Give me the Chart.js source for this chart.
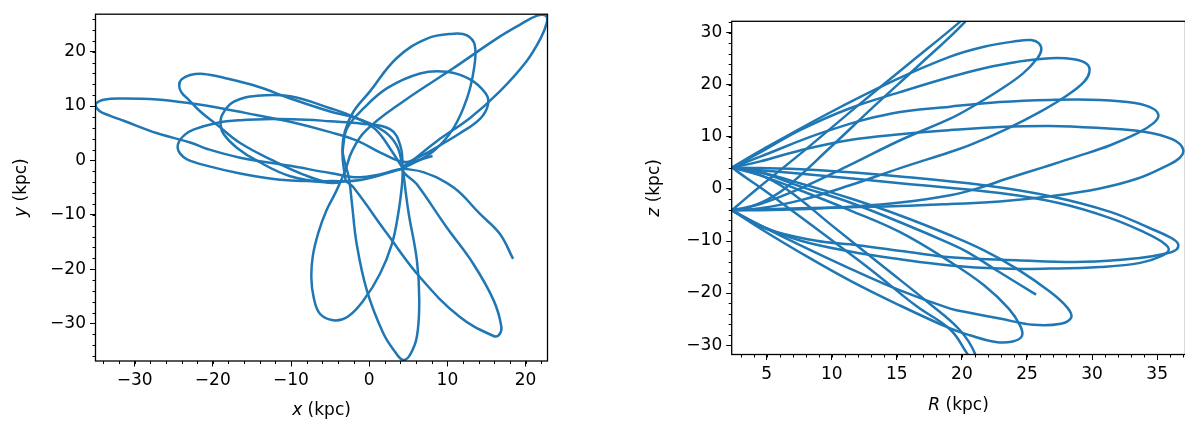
<!DOCTYPE html>
<html>
<head>
<meta charset="utf-8">
<script src="https://cdn.jsdelivr.net/npm/chart.js@4.4.1/dist/chart.umd.min.js"></script>
<style>
  html, body { margin: 0; padding: 0; background: #fff; overflow: hidden; }
  canvas { position: absolute; top: 0; }
  #xy { left: 0; }
  #rz { left: 590px; }
</style>
</head>
<body>
<canvas id="xy" width="580" height="425"></canvas>
<canvas id="rz" width="610" height="425"></canvas>
<script>
// orbit seen from above, x-y in kpc, traced petal by petal
const xyPetal1 = [[8.1,0.8],[4.6,-0.3],[1.5,1.4],[-1.5,3.6],[-5.0,5.2],[-10.1,7.1],[-14.3,8.3],[-18.6,9.5],[-22.9,10.5],[-27.1,11.2],[-31.4,11.4],[-33.8,11.2],[-35.0,10.3],[-34.5,9.1],[-33.1,8.2],[-31.4,7.3],[-27.1,5.0],[-22.9,3.3],[-20.7,2.1],[-16.5,0.5],[-10.1,-1.0],[-5.0,-2.3],[-1.1,-3.1],[4.3,-1.5]];
const xyPetal2 = [[4.3,-1.5],[3.7,2.2],[2.4,4.8],[0.1,6.8],[-2.4,8.1],[-5.0,9.0],[-10.1,11.4],[-14.3,13.6],[-18.6,15.2],[-21.2,15.9],[-22.9,15.7],[-24.0,14.9],[-24.3,13.8],[-24.0,12.5],[-23.1,11.2],[-21.6,9.0],[-19.5,6.6],[-16.5,3.2],[-12.2,-0.1],[-8.4,-2.6],[-5.0,-4.1],[-3.0,-3.8]];
const xyPetal3 = [[4.3,-1.5],[4.0,2.6],[2.7,5.7],[-1.1,6.8],[-5.0,7.2],[-8.0,7.5],[-12.2,7.6],[-16.5,7.4],[-19.5,6.9],[-22.4,5.7],[-23.6,4.7],[-24.3,3.5],[-24.5,2.4],[-24.2,1.3],[-23.3,0.2],[-20.7,-1.0],[-16.5,-2.4],[-12.2,-3.4],[-8.0,-3.8],[-5.0,-3.8],[-1.1,-3.6],[4.3,-1.5]];
const xyPetal4 = [[4.3,-1.5],[2.9,1.7],[0.8,5.7],[-1.8,7.9],[-5.0,9.6],[-10.1,11.8],[-14.3,11.9],[-17.3,10.8],[-18.8,8.4],[-19.0,6.6],[-18.6,4.8],[-16.9,2.3],[-14.3,-0.1],[-10.1,-2.9],[-5.0,-4.1],[-3.0,-3.8]];
const xyPetal5 = [[4.3,-1.5],[8.6,3.5],[12.9,7.8],[16.7,12.7],[20.1,18.2],[21.9,22.4],[22.7,25.3],[22.6,26.6],[21.4,26.6],[19.2,24.9],[16.3,22.4],[10.7,16.9],[4.3,10.8],[-0.5,5.4],[-2.2,1.7],[-3.1,-2.0],[-4.2,-5.6],[-5.5,-9.3],[-6.5,-13.3],[-7.2,-17.5],[-7.4,-21.5],[-7.1,-25.2],[-6.3,-28.2],[-4.6,-29.4],[-2.8,-28.8],[-0.7,-25.7],[1.4,-20.8],[2.9,-15.4],[3.7,-9.9],[4.2,-4.4],[4.3,-1.5]];
const xyPetal6 = [[4.3,-1.5],[8.2,1.7],[10.8,6.0],[12.5,11.4],[13.4,16.9],[13.5,21.2],[12.5,23.0],[10.8,23.3],[7.4,22.4],[3.5,18.8],[0.1,12.7],[-2.0,9.0],[-3.1,5.4],[-3.4,1.7],[-2.6,-3.2],[-2.2,-8.0],[-1.6,-15.4],[-0.3,-23.9],[1.8,-31.8],[3.3,-35.2],[4.3,-36.7],[5.2,-35.8],[6.1,-32.4],[6.4,-25.7],[6.1,-18.4],[5.0,-9.3],[4.3,-1.5]];
const xyPetal7 = [[-3.0,-3.8],[-3.4,0.4],[-3.3,2.9],[-2.8,6.0],[-0.7,9.6],[2.3,13.3],[6.5,16.0],[9.9,16.3],[12.9,14.9],[14.9,12.3],[15.2,10.3],[14.2,7.7],[11.6,5.0],[7.8,1.7],[4.3,-1.5],[6.1,-4.4],[9.9,-12.3],[13.3,-19.0],[15.9,-25.7],[16.9,-30.6],[16.6,-32.1],[15.9,-32.3],[11.6,-28.8],[6.5,-21.5],[2.3,-13.5],[-2.0,-5.0],[-3.0,-3.8]];
const xyTail = [[4.3,-1.5],[7.0,-2.2],[10.8,-5.0],[14.2,-9.9],[16.7,-13.5],[18.4,-18.1]];

// same orbit in R-z, one excursion per list
const rzUp1 = [[2.33,4.1],[4.5,7.3],[9.5,14.2],[14.6,20.6],[19.1,25.4],[21.7,27.3],[24.2,28.4],[25.3,28.6],[25.9,28.0],[26.1,26.7],[25.8,25.1],[24.7,22.2],[22.9,19.0],[20.6,15.5],[19.1,13.5],[15.3,9.4],[11.4,4.6],[7.6,0.1],[4.5,-2.9],[2.33,-4.1]];
const rzUp2 = [[2.33,4.1],[4.5,7.0],[7.56,11.3],[11.4,15.5],[15.25,18.6],[19.1,21.5],[21.7,23.2],[24.2,24.4],[26.8,25.1],[28.6,24.9],[29.6,24.0],[29.8,22.5],[29.4,20.6],[28.1,18.0],[26.0,14.8],[23.5,11.6],[20.6,8.4],[19.1,7.1],[15.25,4.0],[11.4,0.7],[7.56,-2.2],[4.5,-3.7],[2.33,-4.1]];
const rzUp3 = [[2.33,4.1],[4.5,6.2],[9.5,11.0],[14.6,14.5],[19.1,15.8],[22.9,16.7],[26.8,17.1],[30.6,17.1],[33.3,16.5],[34.7,15.4],[35.1,14.0],[34.7,12.6],[33.5,10.7],[31.4,8.4],[28.8,6.2],[26.3,4.2],[23.5,2.0],[21.2,0.1],[19.1,-1.2],[15.25,-2.6],[11.4,-3.4],[7.56,-3.9],[4.5,-4.1],[2.33,-4.1]];
const rzUp4 = [[2.33,4.1],[4.5,5.3],[7.56,7.4],[11.4,9.4],[15.25,10.5],[19.1,11.3],[22.9,11.9],[26.8,12.1],[30.6,11.7],[34.0,11.0],[36.2,9.5],[37.0,7.6],[36.7,5.9],[35.6,4.3],[33.5,2.0],[30.6,0.1],[26.8,-1.4],[22.9,-2.4],[19.1,-2.9],[15.25,-3.3],[11.4,-3.5],[7.56,-3.7],[2.33,-4.1]];
const rzDown1 = [[2.33,4.1],[4.5,4.0],[9.1,3.6],[15.25,2.4],[21.7,0.7],[26.8,-1.4],[31.4,-4.4],[34.5,-7.6],[36.0,-9.3],[36.6,-10.5],[36.5,-11.6],[35.7,-12.4],[33.5,-13.3],[29.4,-14.0],[24.2,-13.7],[19.1,-13.1],[15.9,-12.1],[12.0,-10.8],[8.7,-9.9],[4.9,-7.6],[2.33,-4.1]];
const rzDown2 = [[2.33,4.1],[4.5,3.6],[9.1,2.6],[15.25,1.1],[22.9,-0.8],[27.6,-2.8],[31.4,-5.6],[34.0,-8.3],[35.4,-10.2],[35.9,-11.6],[35.4,-12.8],[33.7,-14.2],[30.6,-15.0],[26.8,-15.3],[22.9,-15.3],[19.1,-14.7],[15.25,-13.5],[11.4,-12.0],[7.56,-9.9],[4.5,-7.0],[2.33,-4.1]];
const rzDown3 = [[2.33,4.1],[4.5,3.2],[7.56,1.1],[11.4,-1.8],[15.25,-5.1],[19.1,-8.9],[21.7,-11.8],[24.2,-15.3],[26.8,-19.8],[28.1,-22.8],[28.4,-24.7],[27.6,-25.9],[25.5,-26.1],[22.9,-24.9],[20.4,-23.7],[19.1,-23.0],[15.25,-19.5],[11.4,-15.3],[7.56,-10.8],[4.5,-7.0],[2.33,-4.1]];
const rzDown4 = [[2.33,4.1],[4.5,2.6],[7.56,-0.25],[11.4,-4.1],[15.25,-8.3],[19.1,-14.0],[21.7,-18.5],[23.6,-23.0],[24.5,-26.4],[24.6,-28.3],[23.9,-29.3],[22.6,-29.4],[20.6,-28.1],[19.1,-26.8],[15.25,-22.4],[11.4,-17.6],[7.56,-12.2],[4.5,-7.6],[2.33,-4.1]];
const rzTop = [[2.33,-4.1],[3.3,-2.0],[4.3,0.1],[8.0,7.6],[12.0,16.0],[15.9,24.0],[19.8,32.0],[20.6,34.0],[20.2,32.0],[16.8,24.0],[13.3,16.0],[9.9,8.0],[6.4,0.1],[4.6,-2.6],[3.2,-3.8],[2.33,-4.1]];
const rzBottom = [[2.33,4.1],[3.5,2.0],[5.0,-0.6],[9.0,-8.0],[13.0,-15.5],[16.5,-22.5],[19.1,-27.0],[20.4,-31.6],[20.9,-33.5],[21.0,-31.6],[19.8,-27.0],[17.5,-22.0],[14.0,-15.0],[10.0,-7.0],[6.5,0.0],[4.2,3.0],[2.33,4.1]];
const rzTail = [[2.33,4.1],[4.5,3.2],[7.56,0.5],[11.4,-2.6],[15.25,-6.4],[19.1,-10.5],[20.4,-12.1],[22.9,-16.0],[25.7,-20.3]];

// axis ranges and tick labels
const xRange = [-35.0, 22.8];
const yRange = [-36.9, 26.9];
const RRange = [2.31, 37.18];
const zRange = [-31.8, 32.2];
const xTicks = [-30, -20, -10, 0, 10, 20];
const yTicks = [-30, -20, -10, 0, 10, 20];
const RTicks = [5, 10, 15, 20, 25, 30, 35];
const zTicks = [-30, -20, -10, 0, 10, 20, 30];

const blue = '#1f77b4';
const fam = "'DejaVu Sans', sans-serif";
Chart.defaults.font.family = fam;
Chart.defaults.font.size = 17;
Chart.defaults.color = '#000';

const minus = v => String(v).replace('-', '\u2212');

function drawTitle(ctx, parts, cx, cy, rot) {
  ctx.save();
  ctx.translate(cx, cy);
  if (rot) ctx.rotate(-Math.PI / 2);
  ctx.fillStyle = '#000';
  ctx.textBaseline = 'middle';
  ctx.font = 'italic 17px ' + fam;
  const w1 = ctx.measureText(parts[0]).width;
  ctx.font = '17px ' + fam;
  const w2 = ctx.measureText(parts[1]).width;
  let x = -(w1 + w2) / 2;
  ctx.font = 'italic 17px ' + fam;
  ctx.fillText(parts[0], x, 0);
  ctx.font = '17px ' + fam;
  ctx.fillText(parts[1], x + w1, 0);
  ctx.restore();
}

// frame, minor ticks and the axis titles
const frameTicks = {
  id: 'frameTicks',
  afterDraw(chart, args, o) {
    const { ctx, chartArea: a, scales } = chart;
    const xs = scales.x, ys = scales.y;
    ctx.save();
    ctx.strokeStyle = '#000';
    ctx.lineWidth = 1;
    ctx.beginPath();
    for (let i = Math.ceil(xs.min / o.xMinor); i * o.xMinor <= xs.max; i++) {
      const p = Math.round(xs.getPixelForValue(i * o.xMinor)) + 0.5;
      ctx.moveTo(p, a.bottom); ctx.lineTo(p, a.bottom + 3);
    }
    for (let i = Math.ceil(ys.min / o.yMinor); i * o.yMinor <= ys.max; i++) {
      const p = Math.round(ys.getPixelForValue(i * o.yMinor)) + 0.5;
      ctx.moveTo(a.left - 3, p); ctx.lineTo(a.left, p);
    }
    ctx.stroke();
    ctx.lineWidth = 1.3;
    ctx.strokeRect(a.left, a.top, a.right - a.left, a.bottom - a.top);
    ctx.restore();
    drawTitle(ctx, o.xTitle, (a.left + a.right) / 2, a.bottom + o.xTitleGap, false);
    drawTitle(ctx, o.yTitle, a.left - o.yTitleGap, (a.top + a.bottom) / 2, true);
  }
};

function axis(range, ticks, fit) {
  return {
    type: 'linear',
    min: range[0],
    max: range[1],
    afterBuildTicks: s => { s.ticks = ticks.map(v => ({ value: v })); },
    afterFit: fit,
    grid: { drawOnChartArea: false, drawTicks: true, tickLength: 5.5, tickColor: '#000', tickWidth: 1 },
    border: { display: false },
    ticks: { padding: 4, color: '#000', autoSkip: false, maxRotation: 0, callback: v => minus(v) }
  };
}

function orbitChart(id, segs, xr, yr, xt, yt, layout, extra) {
  return new Chart(document.getElementById(id), {
    type: 'scatter',
    data: {
      datasets: segs.map(seg => ({
        data: seg.map(([x, y]) => ({ x, y })),
        showLine: true,
        borderColor: blue,
        borderWidth: 2.5,
        pointRadius: 0,
        pointHoverRadius: 0,
        tension: 0.4,
        fill: false
      }))
    },
    options: {
      responsive: false,
      animation: false,
      events: [],
      layout: { padding: layout.padding },
      plugins: { legend: { display: false }, tooltip: { enabled: false }, frameTicks: extra },
      scales: {
        x: axis(xr, xt, s => { s.height = layout.xh; }),
        y: axis(yr, yt, s => { s.width = layout.yw; })
      }
    },
    plugins: [frameTicks]
  });
}

orbitChart('xy',
  [xyPetal1, xyPetal2, xyPetal3, xyPetal4, xyPetal5, xyPetal6, xyPetal7, xyTail],
  xRange, yRange, xTicks, yTicks,
  { padding: { top: 12, right: 32.5, left: 0, bottom: 0 }, xh: 64, yw: 95.5 },
  { xMinor: 2, yMinor: 2, xTitle: ['x', ' (kpc)'], yTitle: ['y', ' (kpc)'], xTitleGap: 50, yTitleGap: 73.5 });

orbitChart('rz',
  [rzUp1, rzUp2, rzUp3, rzUp4, rzDown1, rzDown2, rzDown3, rzDown4, rzTop, rzBottom, rzTail],
  RRange, zRange, RTicks, zTicks,
  { padding: { top: 21.3, right: 14.5, left: 0, bottom: 0 }, xh: 70.5, yw: 141.7 },
  { xMinor: 1, yMinor: 2, xTitle: ['R', ' (kpc)'], yTitle: ['z', ' (kpc)'], xTitleGap: 51.5, yTitleGap: 76.7 });
</script>
</body>
</html>
